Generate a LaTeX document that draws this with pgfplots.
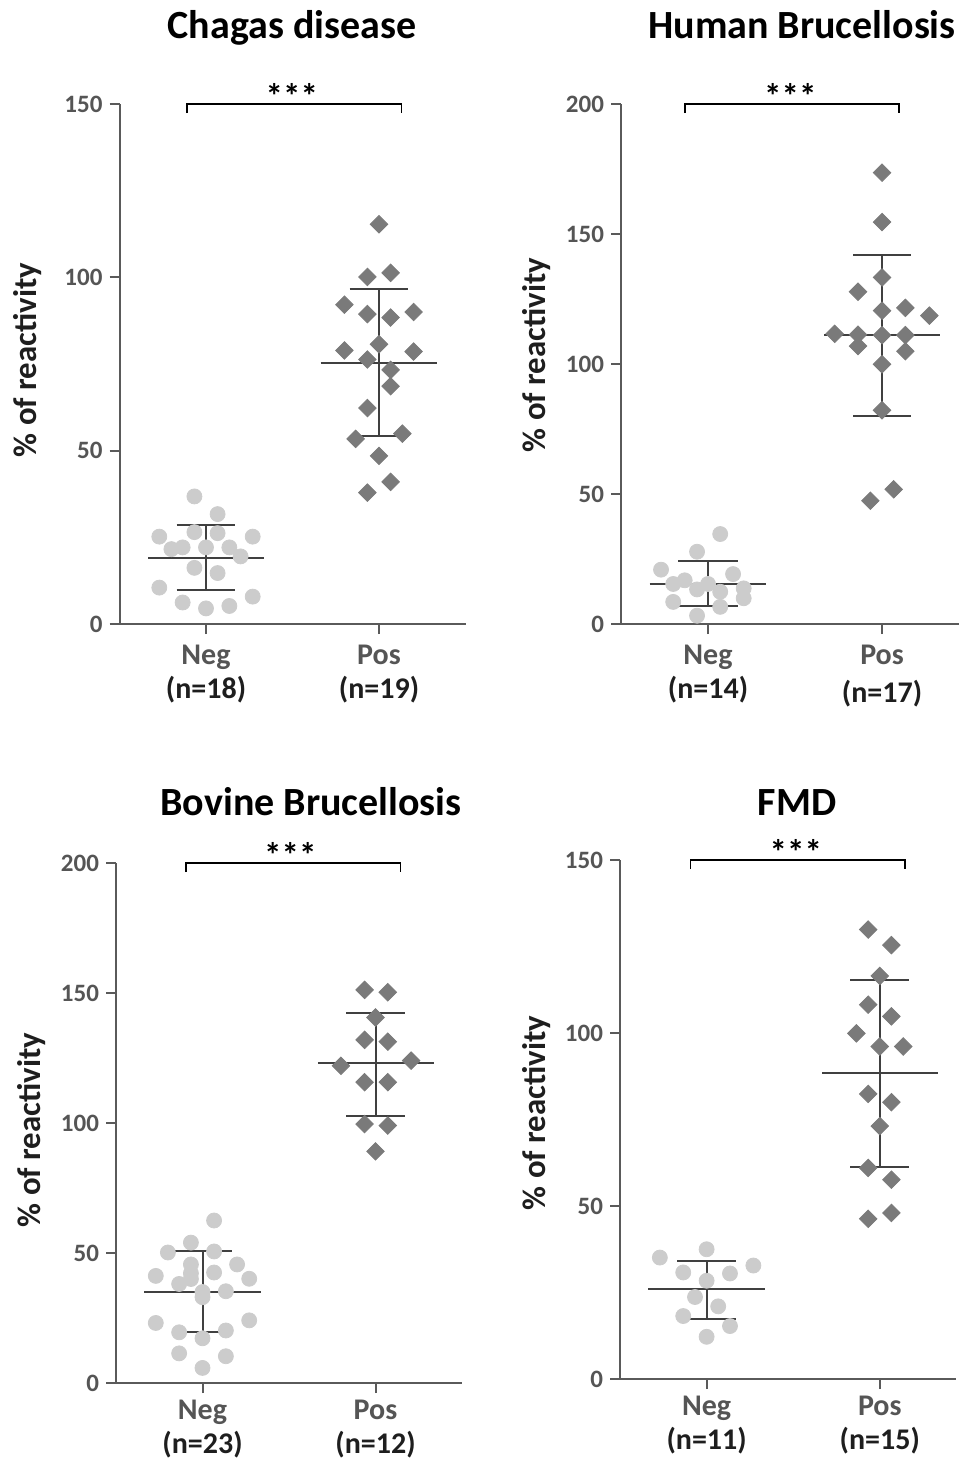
\documentclass[border=0pt]{standalone}
\usepackage{fontspec}
\setmainfont{Carlito}
\usepackage{pgfplots}
\pgfplotsset{compat=1.18}

\definecolor{negc}{RGB}{204,204,204}
\definecolor{posc}{RGB}{122,122,122}
\definecolor{barc}{RGB}{64,64,64}
\definecolor{axc}{RGB}{90,90,90}
\definecolor{labc}{RGB}{85,85,85}
\definecolor{txtc}{RGB}{30,30,30}

\pgfplotsset{
  dotpanel/.style={
    scale only axis, anchor=south west,
    axis lines=left,
    axis line style={axc, line width=1pt, -},
    x axis line style={-}, y axis line style={-},
    xmin=-0.5, ymin=0,
    xtick={0,1},
    tick align=outside, major tick length=5pt,
    tick style={axc, line width=1pt},
    /pgf/number format/assume math mode=true,
    y tick label style={font=\fontsize{12.5}{13}\selectfont\bfseries, text=labc},
    x tick label style={font=\fontsize{15}{17}\selectfont\bfseries, align=center, text=txtc, yshift=-2pt},
    clip=false,
  },
  lowrow/.style={x tick label style={yshift=1.8pt}},
  negpt/.style={only marks, mark=*, mark size=3.75pt, color=negc},
  pospt/.style={only marks, mark=square*, mark size=3.1pt, color=posc, mark options={rotate=45}},
  errst/.style={barc, line width=1pt, no marks},
  brk/.style={black, line width=0.8pt, no marks},
}
\newcommand\stars{\fontsize{17.5}{18}\selectfont\bfseries ***}
\newcommand\ttl{\fontsize{20}{24}\selectfont\bfseries}
\newcommand\ylab{\fontsize{16.4}{18}\selectfont\bfseries\color{txtc}}

\begin{document}
\begin{tikzpicture}

% Chagas disease
\begin{axis}[dotpanel, at={(59.75pt,-312pt)}, width=173pt, height=260pt,
  xmax=1.5, ymax=150, ytick={0,50,100,150},
  xticklabels={{\textcolor{labc}{Neg}\\(n=18)},{\textcolor{labc}{Pos}\\(n=19)}}]
\addplot[negpt] coordinates {(-0.067,36.8)(0.067,31.7)(-0.27,25.2)(-0.067,26.5)(0.067,26.2)(0.27,25.2)(-0.2,21.6)(-0.135,22.1)(0,22.1)(0.135,22.1)(0.2,19.5)(-0.067,16.2)(0.067,14.7)(-0.27,10.5)(0.27,7.9)(-0.135,6.2)(0,4.5)(0.135,5.2)};
\addplot[pospt] coordinates {(1,115.3)(0.933,100.1)(1.067,101.3)(0.8,92.1)(0.933,89.4)(1.067,88.4)(1.2,90.0)(1,80.7)(0.8,78.9)(1.2,78.6)(0.933,76.3)(1.067,73.3)(1.067,68.6)(0.933,62.3)(0.865,53.4)(1.135,54.9)(1,48.5)(0.933,37.9)(1.067,41.0)};
\addplot[errst] coordinates {(-0.335,19.1)(0.335,19.1)};
\addplot[errst] coordinates {(0,9.7)(0,28.5)};
\addplot[errst] coordinates {(-0.17,28.5)(0.17,28.5)};
\addplot[errst] coordinates {(-0.17,9.7)(0.17,9.7)};
\addplot[errst] coordinates {(0.663,75.2)(1.337,75.2)};
\addplot[errst] coordinates {(1,54.1)(1,96.6)};
\addplot[errst] coordinates {(0.83,96.6)(1.17,96.6)};
\addplot[errst] coordinates {(0.83,54.1)(1.17,54.1)};
\addplot[brk] coordinates {(-0.11,147.4)(-0.11,150)(1.13,150)(1.13,147.4)};
\node[anchor=base] at (axis cs:0.496,148.6) {\stars};
\end{axis}

% Human Brucellosis
\begin{axis}[dotpanel, at={(310.5pt,-312pt)}, width=168.8pt, height=260pt,
  xmax=1.44, ymax=200, ytick={0,50,100,150,200},
  xticklabels={{\textcolor{labc}{Neg}\\(n=14)},{\textcolor{labc}{Pos}\\[2pt](n=17)}}]
\addplot[negpt] coordinates {(0.07,34.6)(-0.063,27.8)(-0.27,20.9)(-0.134,16.8)(-0.2,15.4)(0,15.4)(-0.063,13.3)(0.144,19.2)(0.07,12.4)(0.205,13.7)(0.205,9.9)(-0.2,8.5)(0.07,6.6)(-0.063,3.2)};
\addplot[pospt] coordinates {(1,173.6)(1,154.6)(1,133.3)(0.862,127.8)(1,120.5)(1.134,121.6)(1.272,118.6)(0.728,111.6)(0.862,111.3)(1,111.1)(1.134,111.1)(0.862,106.9)(1.134,104.9)(1,99.9)(1,82.2)(0.933,47.4)(1.067,51.8)};
\addplot[errst] coordinates {(-0.335,15.4)(0.335,15.4)};
\addplot[errst] coordinates {(0,7.1)(0,24.1)};
\addplot[errst] coordinates {(-0.17,24.1)(0.17,24.1)};
\addplot[errst] coordinates {(-0.17,7.1)(0.17,7.1)};
\addplot[errst] coordinates {(0.667,111.1)(1.335,111.1)};
\addplot[errst] coordinates {(1,80.0)(1,141.9)};
\addplot[errst] coordinates {(0.835,141.9)(1.165,141.9)};
\addplot[errst] coordinates {(0.835,80.0)(1.165,80.0)};
\addplot[brk] coordinates {(-0.134,196.5)(-0.134,200)(1.096,200)(1.096,196.5)};
\node[anchor=base] at (axis cs:0.473,198.2) {\stars};
\end{axis}

% Bovine Brucellosis
\begin{axis}[dotpanel, lowrow, at={(58pt,-691.5pt)}, width=173pt, height=260pt,
  xmax=1.5, ymax=200, ytick={0,50,100,150,200},
  xticklabels={{\textcolor{labc}{Neg}\\(n=23)},{\textcolor{labc}{Pos}\\(n=12)}}]
\addplot[negpt] coordinates {(0.067,62.5)(-0.067,54.0)(-0.2,50.2)(0.067,50.6)(-0.067,45.6)(0.2,45.6)(-0.27,41.2)(-0.067,42.2)(0.067,42.5)(0.27,40.1)(-0.135,38.1)(0.135,35.3)(0,33.0)(0,35.0)(-0.067,40.0)(-0.27,23.1)(0.27,24.1)(-0.135,19.5)(0.135,20.2)(0,17.2)(-0.135,11.4)(0.135,10.3)(0,5.8)};
\addplot[pospt] coordinates {(0.937,151.2)(1.071,150.3)(1,140.6)(0.937,132.0)(1.071,131.3)(0.8,122.0)(1.206,124.0)(0.937,115.7)(1.071,115.7)(0.937,99.6)(1.071,99.0)(1,89.1)};
\addplot[errst] coordinates {(-0.337,35.1)(0.337,35.1)};
\addplot[errst] coordinates {(0,19.5)(0,50.6)};
\addplot[errst] coordinates {(-0.17,50.6)(0.17,50.6)};
\addplot[errst] coordinates {(-0.17,19.5)(0.17,19.5)};
\addplot[errst] coordinates {(0.667,122.9)(1.34,122.9)};
\addplot[errst] coordinates {(1,102.7)(1,142.3)};
\addplot[errst] coordinates {(0.83,142.3)(1.17,142.3)};
\addplot[errst] coordinates {(0.83,102.7)(1.17,102.7)};
\addplot[brk] coordinates {(-0.096,196.5)(-0.096,200)(1.144,200)(1.144,196.5)};
\node[anchor=base] at (axis cs:0.508,198.2) {\stars};
\end{axis}

% FMD
\begin{axis}[dotpanel, lowrow, at={(310pt,-689.5pt)}, width=168pt, height=259.5pt,
  xmax=1.44, ymax=150, ytick={0,50,100,150},
  xticklabels={{\textcolor{labc}{Neg}\\(n=11)},{\textcolor{labc}{Pos}\\(n=15)}}]
\addplot[negpt] coordinates {(0,37.5)(-0.27,35.1)(0.27,32.8)(-0.135,30.8)(0.135,30.5)(0,28.4)(-0.067,23.7)(0.067,21.0)(-0.135,18.2)(0.135,15.3)(0,12.2)};
\addplot[pospt] coordinates {(0.933,129.9)(1.067,125.4)(1,116.5)(0.933,108.2)(1.067,104.8)(0.865,99.9)(1,96.1)(1.135,96.1)(0.933,82.4)(1.067,80.0)(1,73.1)(0.933,61.0)(1.067,57.6)(0.933,46.3)(1.067,48.0)};
\addplot[errst] coordinates {(-0.337,25.9)(0.337,25.9)};
\addplot[errst] coordinates {(0,17.3)(0,34.2)};
\addplot[errst] coordinates {(-0.17,34.2)(0.17,34.2)};
\addplot[errst] coordinates {(-0.17,17.3)(0.17,17.3)};
\addplot[errst] coordinates {(0.667,88.4)(1.335,88.4)};
\addplot[errst] coordinates {(1,61.4)(1,115.4)};
\addplot[errst] coordinates {(0.83,115.4)(1.17,115.4)};
\addplot[errst] coordinates {(0.83,61.4)(1.17,61.4)};
\addplot[brk] coordinates {(-0.092,147.4)(-0.092,150)(1.144,150)(1.144,147.4)};
\node[anchor=base] at (axis cs:0.515,148.6) {\stars};
\end{axis}

% titles and y labels
\node[anchor=base, text=black] at (146pt,-19.5pt) {\ttl Chagas disease};
\node[anchor=base, text=black] at (401pt,-19.5pt) {\ttl Human Brucellosis};
\node[anchor=base, text=black] at (155.5pt,-407.5pt) {\ttl Bovine Brucellosis};
\node[anchor=base, text=black] at (398.5pt,-407.5pt) {\ttl FMD};
\node[rotate=90] at (14pt,-180pt) {\ylab \% of reactivity};
\node[rotate=90] at (268.5pt,-177.5pt) {\ylab \% of reactivity};
\node[rotate=90] at (16pt,-565pt) {\ylab \% of reactivity};
\node[rotate=90] at (268.5pt,-556.5pt) {\ylab \% of reactivity};

\pgfresetboundingbox
\useasboundingbox (0,0) rectangle (479.5pt,-730pt);
\end{tikzpicture}
\end{document}
